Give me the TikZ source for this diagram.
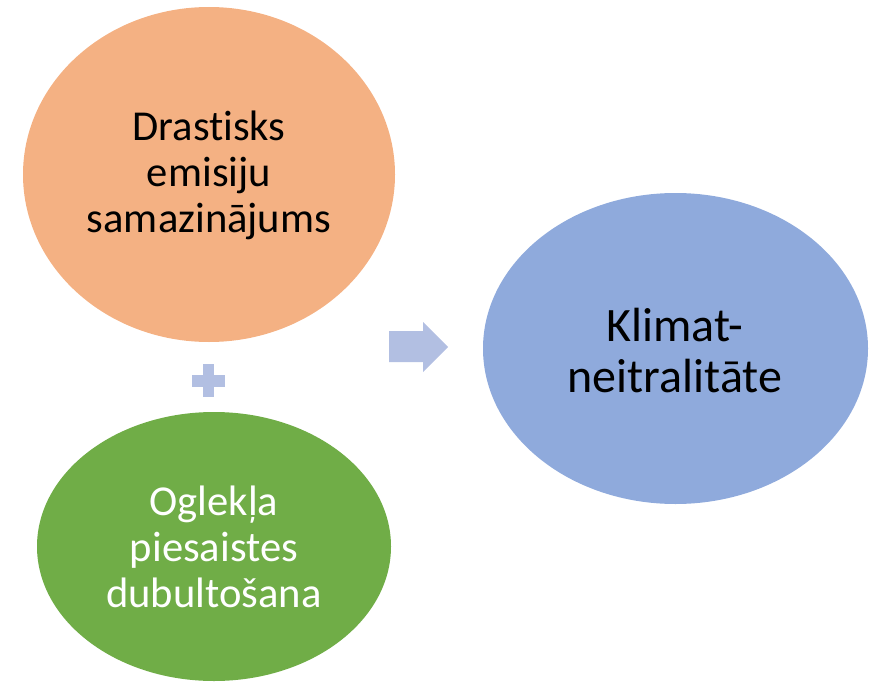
\documentclass[tikz,border=0pt]{standalone}
\usepackage{fontspec}
\setmainfont{Carlito}[RawFeature=-liga]
\usetikzlibrary{shapes.geometric}
\definecolor{orangefill}{HTML}{F4B183}
\definecolor{greenfill}{HTML}{70AD47}
\definecolor{bluefill}{HTML}{8FAADC}
\definecolor{opfill}{HTML}{B2BFE2}
\tikzset{
  bubble/.style={ellipse, inner sep=0pt, align=center},
  optxt/.style={fill=opfill, draw=none}
}
\begin{document}
\begin{tikzpicture}[x=1pt, y=-1pt]
\useasboundingbox (0,0) rectangle (869,682);
% ellipses
\fill[orangefill] (209,174.5) ellipse [x radius=186, y radius=167.5];
\fill[greenfill] (214,546.5) ellipse [x radius=177, y radius=134.5];
\fill[bluefill] (675.5,348.5) ellipse [x radius=192.5, y radius=155.5];
% texts
\node[bubble, text=black, font=\fontsize{42.6}{46}\selectfont] (emis) at (209,175) {Drastisks\\emisiju\\samazinājums};
\node[bubble, text=white, font=\fontsize{42.6}{46}\selectfont] (ogl) at (214,547) {Oglekļa\\piesaistes\\dubultošana};
\node[bubble, text=black, font=\fontsize{48}{51}\selectfont] (klim) at (675,351) {Klimat-\\neitralitāte};
% plus sign
\fill[optxt] (192,375) rectangle (225,387);
\fill[optxt] (203,364) rectangle (214,397);
% arrow
\fill[optxt] (389,331) -- (423,331) -- (423,322) -- (448,347) -- (423,372) -- (423,362) -- (389,362) -- cycle;
\end{tikzpicture}
\end{document}
